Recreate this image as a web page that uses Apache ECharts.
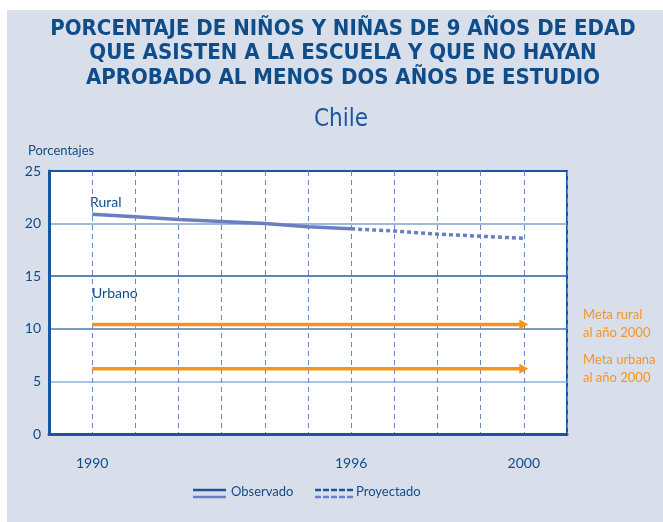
<!DOCTYPE html>
<html>
<head>
<meta charset="utf-8">
<script src="https://cdn.jsdelivr.net/npm/echarts@6/dist/echarts.min.js"></script>
<style>
html, body { margin: 0; padding: 0; background: #fff; }
#main { width: 663px; height: 522px; }
</style>
</head>
<body>
<div id="main"></div>
<script>
// datos
var yearsObs = [1990, 1991, 1992, 1993, 1994, 1995, 1996];
var ruralObs = [20.9, 20.65, 20.4, 20.2, 20.0, 19.7, 19.5];
var yearsProj = [1996, 1997, 1998, 1999, 2000];
var ruralProj = [19.5, 19.3, 19.0, 18.8, 18.6];
var metaYears = [1990, 2000];
var metaRural = [10.4, 10.4];
var metaUrbana = [6.2, 6.2];
var xLabels = [1990, 1996, 2000];

var dark = '#0f4c8a';
var blue = '#1a56a0';
var lineBlue = '#6a7fbf';
var orange = '#f7941d';
var font = 'Lato, "Open Sans", sans-serif';
var narrow = '"DejaVu Sans Condensed", "Liberation Sans Narrow", sans-serif';

function pairs(xs, ys) {
    return xs.map(function (x, i) { return [x, ys[i]]; });
}

function metaSeries(name, vals) {
    var data = pairs(metaYears, vals);
    data[data.length - 1] = {
        value: data[data.length - 1],
        symbol: 'triangle',
        symbolSize: [10, 9],
        symbolRotate: -90,
        symbolOffset: [0, 0]
    };
    return {
        name: name,
        type: 'line',
        data: data,
        symbol: 'none',
        showSymbol: true,
        itemStyle: { color: orange },
        lineStyle: { color: orange, width: 3.5 },
        silent: true,
        z: 3
    };
}

var chart = echarts.init(document.getElementById('main'));
chart.setOption({
    animation: false,
    backgroundColor: '#fff',
    textStyle: { fontFamily: font },
    graphic: [
        { type: 'rect', z: -10, shape: { x: 7, y: 10, width: 663, height: 522 }, style: { fill: '#d8dfeb' } },
        {
            type: 'text', x: 343, y: 17,
            style: {
                text: 'PORCENTAJE DE NIÑOS Y NIÑAS DE 9 AÑOS DE EDAD\nQUE ASISTEN A LA ESCUELA Y QUE NO HAYAN\nAPROBADO AL MENOS DOS AÑOS DE ESTUDIO',
                font: 'bold 22px ' + narrow,
                fill: dark, align: 'center', verticalAlign: 'top', lineHeight: 24.5
            }
        },
        {
            type: 'text', x: 341, y: 108,
            style: { text: 'Chile', font: '24px ' + narrow, fill: blue, align: 'center', verticalAlign: 'top' }
        },
        { type: 'text', left: 28, top: 144, style: { text: 'Porcentajes', font: '13px ' + font, fill: dark } },
        { type: 'text', left: 90, top: 195, style: { text: 'Rural', font: '14px ' + font, fill: dark } },
        { type: 'text', left: 92, top: 286, style: { text: 'Urbano', font: '14px ' + font, fill: dark } },
        { type: 'text', left: 583, top: 306, style: { text: 'Meta rural\nal año 2000', font: '13px ' + font, fill: orange, lineHeight: 18 } },
        { type: 'text', left: 583, top: 351, style: { text: 'Meta urbana\nal año 2000', font: '13px ' + font, fill: orange, lineHeight: 18 } },
        // leyenda
        { type: 'line', shape: { x1: 193, y1: 490, x2: 226, y2: 490 }, style: { stroke: blue, lineWidth: 2.5 } },
        { type: 'line', shape: { x1: 193, y1: 497, x2: 226, y2: 497 }, style: { stroke: lineBlue, lineWidth: 2.5 } },
        { type: 'text', left: 231, top: 485, style: { text: 'Observado', font: '13px ' + font, fill: dark } },
        { type: 'line', shape: { x1: 315, y1: 490, x2: 353, y2: 490 }, style: { stroke: blue, lineWidth: 2.5, lineDash: [6, 2] } },
        { type: 'line', shape: { x1: 315, y1: 497, x2: 353, y2: 497 }, style: { stroke: lineBlue, lineWidth: 2.5, lineDash: [6, 2] } },
        { type: 'text', left: 356, top: 485, style: { text: 'Proyectado', font: '13px ' + font, fill: dark } }
    ],
    grid: {
        left: 49, right: 96, top: 171, bottom: 88,
        show: true, backgroundColor: '#fff', borderColor: blue, borderWidth: 2
    },
    xAxis: {
        type: 'value', min: 1989, max: 2001, interval: 1,
        axisLine: { show: true, onZero: false, lineStyle: { color: blue, width: 3 } },
        axisTick: { show: false },
        axisLabel: {
            margin: 22, color: dark, fontSize: 14, fontFamily: font,
            formatter: function (v) { return xLabels.indexOf(v) >= 0 ? String(v) : ''; }
        },
        splitLine: { show: true, lineStyle: { color: '#6d89c4', width: 1, type: [5, 4] } }
    },
    yAxis: {
        type: 'value', min: 0, max: 25, interval: 5,
        axisLine: { show: true, lineStyle: { color: blue, width: 3 } },
        axisTick: { show: false },
        axisLabel: { margin: 8, color: dark, fontSize: 14, fontFamily: font },
        splitLine: {
            show: true,
            lineStyle: { color: [blue, '#8db0d8', '#4f7bab', '#1d5fa3', '#7fa3cc', blue], width: 1.5 }
        }
    },
    series: [
        {
            name: 'Observado', type: 'line', data: pairs(yearsObs, ruralObs),
            symbol: 'none', lineStyle: { color: lineBlue, width: 3.5 }, z: 4
        },
        {
            name: 'Proyectado', type: 'line', data: pairs(yearsProj, ruralProj),
            symbol: 'none', lineStyle: { color: lineBlue, width: 3.5, type: [4, 3] }, z: 4
        },
        metaSeries('Meta rural al año 2000', metaRural),
        metaSeries('Meta urbana al año 2000', metaUrbana)
    ]
});
</script>
</body>
</html>
